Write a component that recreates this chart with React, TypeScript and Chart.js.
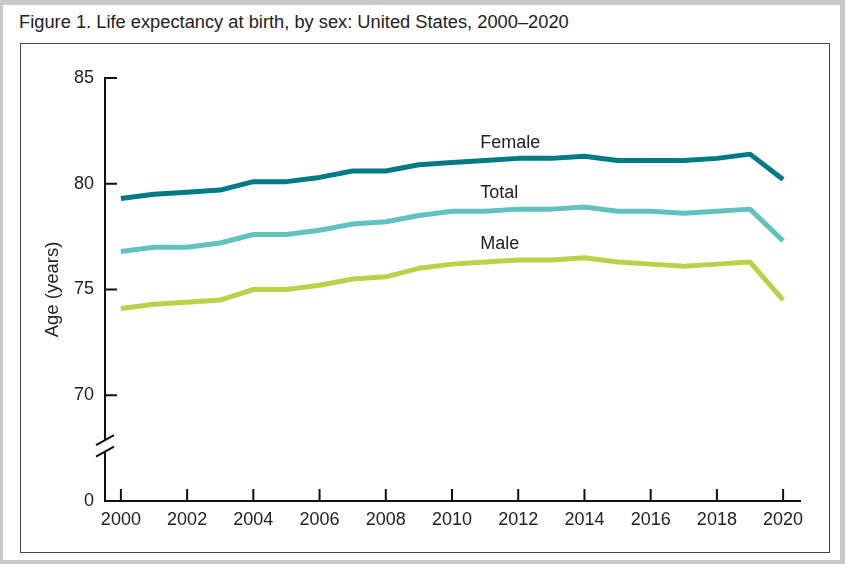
import { useEffect, useRef } from "react";
import { Chart, registerables } from "chart.js";

Chart.register(...registerables);

const years = [2000, 2001, 2002, 2003, 2004, 2005, 2006, 2007, 2008, 2009, 2010, 2011, 2012, 2013, 2014, 2015, 2016, 2017, 2018, 2019, 2020];
const female = [79.3, 79.5, 79.6, 79.7, 80.1, 80.1, 80.3, 80.6, 80.6, 80.9, 81.0, 81.1, 81.2, 81.2, 81.3, 81.1, 81.1, 81.1, 81.2, 81.4, 80.2];
const total = [76.8, 77.0, 77.0, 77.2, 77.6, 77.6, 77.8, 78.1, 78.2, 78.5, 78.7, 78.7, 78.8, 78.8, 78.9, 78.7, 78.7, 78.6, 78.7, 78.8, 77.3];
const male = [74.1, 74.3, 74.4, 74.5, 75.0, 75.0, 75.2, 75.5, 75.6, 76.0, 76.2, 76.3, 76.4, 76.4, 76.5, 76.3, 76.2, 76.1, 76.2, 76.3, 74.5];
const xTickValues = [2000, 2002, 2004, 2006, 2008, 2010, 2012, 2014, 2016, 2018, 2020];
const yTickValues = [65, 70, 75, 80, 85];
const yTickLabels = ["0", "70", "75", "80", "85"];
const seriesNames = ["Female", "Total", "Male"];
const seriesColors = ["#007a85", "#62c2c0", "#bad24a"];
const labelAnchors = [
  { x: 2010.85, y: 81.92 },
  { x: 2010.85, y: 79.55 },
  { x: 2010.85, y: 77.14 },
];
const breakValue = 67.6;

const FONT = "'Liberation Sans', Arial, sans-serif";

const decorPlugin = {
  id: "decor",
  afterDraw(chart: any) {
    const ctx = chart.ctx as CanvasRenderingContext2D;
    const xs = chart.scales.x;
    const ys = chart.scales.y;
    const x0 = xs.left;
    const yb = ys.bottom;
    ctx.save();
    ctx.strokeStyle = "#111";
    ctx.lineWidth = 2;
    ctx.lineCap = "butt";
    ctx.beginPath();
    for (const v of yTickValues.slice(1)) {
      const py = ys.getPixelForValue(v);
      ctx.moveTo(x0, py);
      ctx.lineTo(x0 + 12, py);
    }
    for (const v of xTickValues) {
      const px = xs.getPixelForValue(v);
      ctx.moveTo(px, yb);
      ctx.lineTo(px, yb - 12);
    }
    ctx.stroke();
    // axis break
    const pb = ys.getPixelForValue(breakValue);
    ctx.fillStyle = "#fff";
    ctx.beginPath();
    ctx.moveTo(x0 - 4, pb - 3.8);
    ctx.lineTo(x0 + 4, pb - 8.2);
    ctx.lineTo(x0 + 4, pb + 3.3);
    ctx.lineTo(x0 - 4, pb + 7.7);
    ctx.closePath();
    ctx.fill();
    ctx.beginPath();
    ctx.moveTo(x0 - 9, pb - 1);
    ctx.lineTo(x0 + 9, pb - 11);
    ctx.moveTo(x0 - 9, pb + 10.5);
    ctx.lineTo(x0 + 9, pb + 0.5);
    ctx.stroke();
    // series labels
    ctx.fillStyle = "#222";
    ctx.font = `18px ${FONT}`;
    ctx.textAlign = "left";
    ctx.textBaseline = "middle";
    seriesNames.forEach((name, i) => {
      const a = labelAnchors[i];
      ctx.fillText(name, xs.getPixelForValue(a.x), ys.getPixelForValue(a.y));
    });
    ctx.restore();
  },
};

export default function App() {
  const ref = useRef<HTMLCanvasElement>(null);
  useEffect(() => {
    document.body.style.margin = "0";
    const mk = (vals: number[]) => years.map((y, i) => ({ x: y, y: vals[i] }));
    const chart = new Chart(ref.current as HTMLCanvasElement, {
      type: "line",
      data: {
        datasets: [female, total, male].map((vals, i) => ({
          label: seriesNames[i],
          data: mk(vals),
          borderColor: seriesColors[i],
          backgroundColor: seriesColors[i],
          borderWidth: 5,
          pointRadius: 0,
          tension: 0,
          borderJoinStyle: "round" as const,
          borderCapStyle: "butt" as const,
          fill: false,
        })),
      },
      options: {
        animation: false,
        responsive: false,
        devicePixelRatio: 1,
        layout: { padding: { left: 0, top: 78, right: 45, bottom: 0 } },
        plugins: { legend: { display: false }, tooltip: { enabled: false }, title: { display: false } },
        scales: {
          x: {
            type: "linear",
            min: 1999.52,
            max: 2020.51,
            grid: { display: false, drawTicks: false },
            border: { display: true, color: "#111", width: 2 },
            afterBuildTicks: (s: any) => {
              s.ticks = xTickValues.map((v) => ({ value: v }));
            },
            afterFit: (s: any) => {
              s.height = 63;
            },
            ticks: {
              autoSkip: false,
              maxRotation: 0,
              padding: 8,
              color: "#222",
              font: { family: FONT, size: 18 },
              callback: (v: any) => String(v),
            },
          },
          y: {
            type: "linear",
            min: 65,
            max: 85,
            grid: { display: false, drawTicks: false },
            border: { display: true, color: "#111", width: 2 },
            afterBuildTicks: (s: any) => {
              s.ticks = yTickValues.map((v) => ({ value: v }));
            },
            afterFit: (s: any) => {
              s.width = 105;
            },
            title: {
              display: true,
              text: "Age (years)",
              color: "#222",
              font: { family: FONT, size: 18.5 },
              padding: { top: 42, bottom: 0 },
            },
            ticks: {
              padding: 11,
              color: "#222",
              font: { family: FONT, size: 18 },
              callback: (v: any) => {
                const i = yTickValues.indexOf(Number(v));
                return i >= 0 ? yTickLabels[i] : "";
              },
            },
          },
        },
      },
      plugins: [decorPlugin],
    });
    return () => chart.destroy();
  }, []);

  return (
    <div style={{ position: "relative", width: 845, height: 564, background: "#fff", overflow: "hidden" }}>
      <div
        style={{
          position: "absolute",
          left: 0,
          top: 0,
          width: 845,
          height: 564,
          boxSizing: "border-box",
          borderStyle: "solid",
          borderColor: "#c8c8c8",
          borderWidth: "5px 5px 4px 3px",
        }}
      />
      <div style={{ position: "absolute", left: 19, top: 12, fontFamily: FONT, fontSize: 18.3, lineHeight: "20px", color: "#222", whiteSpace: "nowrap" }}>
        Figure 1. Life expectancy at birth, by sex: United States, 2000–2020
      </div>
      <div style={{ position: "absolute", left: 20, top: 43, width: 810, height: 510, boxSizing: "border-box", border: "1px solid #444" }} />
      <canvas ref={ref} width={845} height={564} style={{ position: "absolute", left: 0, top: 0, width: 845, height: 564 }} />
    </div>
  );
}
